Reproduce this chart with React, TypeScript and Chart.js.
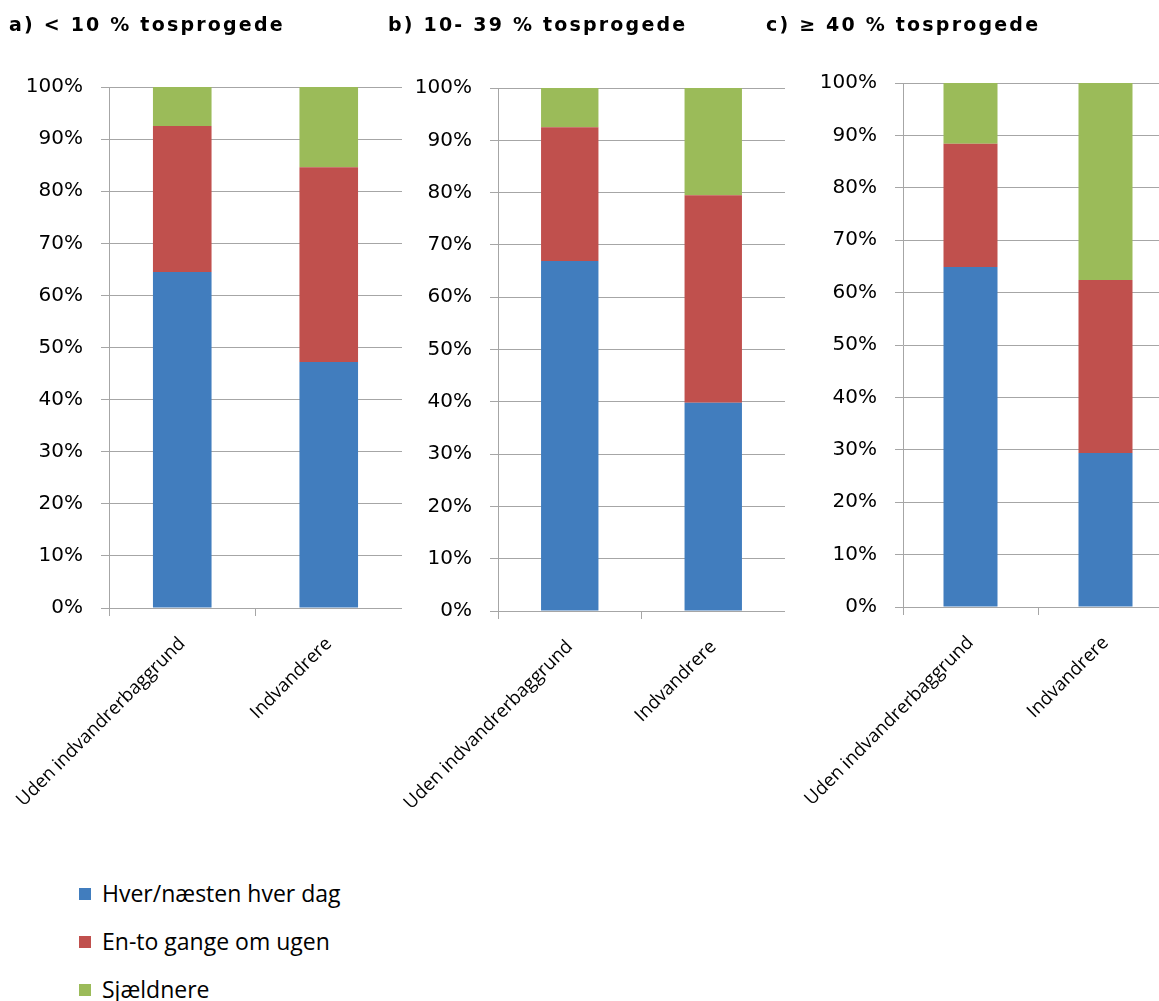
import React, { useEffect, useRef } from "react";
import { Chart, registerables } from "chart.js";

Chart.register(...registerables);

const categories = ["Uden indvandrerbaggrund", "Indvandrere"];
const seriesNames = ["Hver/næsten hver dag", "En-to gange om ugen", "Sjældnere"];
const seriesColors = ["#417DBE", "#C0504D", "#9BBB59"];
const panelTitles = ["a) < 10 % tosprogede", "b) 10- 39 % tosprogede", "c) ≥ 40 % tosprogede"];

const dailyA = [64.5, 47.2];
const weeklyA = [28.0, 37.4];
const rarerA = [7.5, 15.4];

const dailyB = [66.9, 39.8];
const weeklyB = [25.6, 39.7];
const rarerB = [7.5, 20.5];

const dailyC = [64.9, 29.4];
const weeklyC = [23.5, 33.0];
const rarerC = [11.6, 37.6];

const yTicksMax = 100;
const yTicksStep = 10;

const GRID = "#A6A6A6";

type Geo = { canvasLeft: number; left: number; right: number; top: number; bottom: number };

const CANVAS_H = 840;

function Panel({ values, geo }: { values: number[][]; geo: Geo }) {
  const ref = useRef<HTMLCanvasElement>(null);
  useEffect(() => {
    if (!ref.current) return;
    const yWidth = geo.left - geo.canvasLeft;
    const xHeight = CANVAS_H - geo.bottom;
    const chart = new Chart(ref.current, {
      type: "bar",
      data: {
        labels: categories,
        datasets: values.map((v, i) => ({
          label: seriesNames[i],
          data: v,
          backgroundColor: seriesColors[i],
          borderWidth: 0,
          barPercentage: 0.4,
          categoryPercentage: 1,
        })),
      },
      options: {
        animation: false,
        responsive: false,
        devicePixelRatio: 1,
        layout: { padding: { top: geo.top, left: 0, right: 0, bottom: 0 } },
        plugins: { legend: { display: false }, tooltip: { enabled: false }, title: { display: false } },
        scales: {
          x: {
            stacked: true,
            offset: true,
            grid: {
              offset: true,
              drawOnChartArea: false,
              drawTicks: true,
              tickLength: 8,
              color: GRID,
            },
            border: { color: GRID, width: 1 },
            ticks: {
              minRotation: 45,
              maxRotation: 45,
              autoSkip: false,
              padding: 17,
              color: "#000",
              font: { family: "'Open Sans'", size: 18.5 },
            },
            afterFit: (s: any) => {
              s.height = xHeight;
              s.paddingLeft = 0;
              s.paddingRight = 0;
            },
          },
          y: {
            stacked: true,
            min: 0,
            max: yTicksMax,
            grid: { color: GRID, tickLength: 8, drawTicks: true },
            border: { color: GRID, width: 1 },
            ticks: {
              stepSize: yTicksStep,
              padding: 18,
              color: "#000",
              font: { family: "'DejaVu Sans'", size: 20 },
              callback: (v: any) => v + "%",
            },
            afterFit: (s: any) => {
              s.width = yWidth;
              s.paddingTop = 0;
              s.paddingBottom = 0;
            },
          },
        },
      },
    });
    return () => chart.destroy();
  }, []);
  return (
    <canvas
      ref={ref}
      width={geo.right - geo.canvasLeft + 1}
      height={CANVAS_H}
      style={{ position: "absolute", left: geo.canvasLeft, top: 0, width: geo.right - geo.canvasLeft + 1, height: CANVAS_H }}
    />
  );
}

const geos: Geo[] = [
  { canvasLeft: 0, left: 109, right: 401, top: 87, bottom: 608 },
  { canvasLeft: 392, left: 498, right: 784, top: 88, bottom: 611 },
  { canvasLeft: 786, left: 903, right: 1172, top: 83, bottom: 607 },
];
const titleLefts = [9, 388, 766];

export default function App() {
  const panels = [
    [dailyA, weeklyA, rarerA],
    [dailyB, weeklyB, rarerB],
    [dailyC, weeklyC, rarerC],
  ];
  return (
    <div style={{ position: "absolute", left: 0, top: 0, width: 1159, height: 1001, overflow: "hidden", background: "#fff" }}>
      {panels.map((p, i) => (
        <Panel key={i} values={p} geo={geos[i]} />
      ))}
      {panelTitles.map((t, i) => (
        <div
          key={t}
          style={{
            position: "absolute",
            left: titleLefts[i],
            top: 13,
            fontFamily: "'DejaVu Sans'",
            fontWeight: "bold",
            fontSize: 19,
            letterSpacing: "2.2px",
            lineHeight: "22px",
            whiteSpace: "nowrap",
            color: "#000",
          }}
        >
          {t}
        </div>
      ))}
      {seriesNames.map((n, i) => (
        <div key={n} style={{ position: "absolute", left: 79, top: 878 + i * 48, height: 30, whiteSpace: "nowrap" }}>
          <div style={{ position: "absolute", left: 0, top: 10, width: 12, height: 12, background: seriesColors[i] }} />
          <div
            style={{
              position: "absolute",
              left: 23,
              top: 0,
              fontFamily: "'Open Sans'",
              fontSize: 23,
              lineHeight: "30px",
              color: "#000",
            }}
          >
            {n}
          </div>
        </div>
      ))}
    </div>
  );
}
